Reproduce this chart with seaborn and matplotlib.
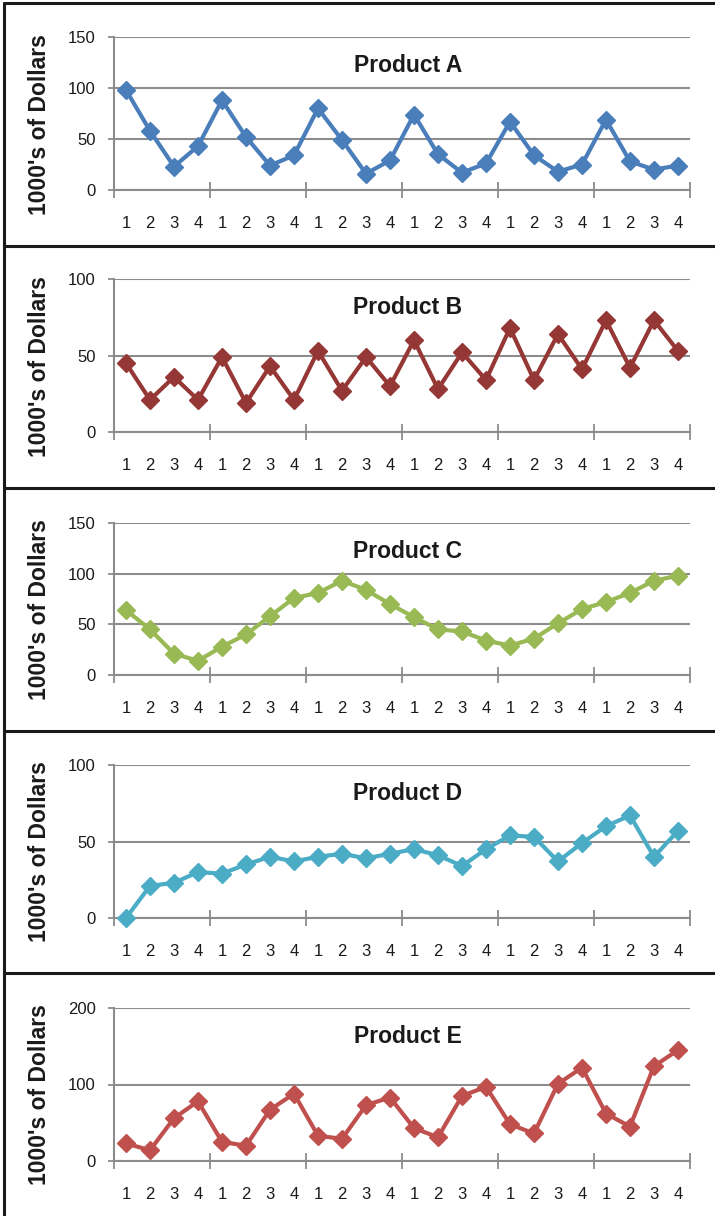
import matplotlib
matplotlib.use("Agg")
import matplotlib.pyplot as plt
from matplotlib.lines import Line2D
from matplotlib.ticker import FixedLocator, NullFormatter, FixedFormatter
import seaborn as sns
import pandas as pd
import numpy as np

# ---------------- data ----------------
quarters = ["1", "2", "3", "4"] * 6
titles = ["Product A", "Product B", "Product C", "Product D", "Product E"]
product_a = [98, 58, 23, 43, 88, 52, 24, 34, 80, 49, 16, 29, 74, 35, 17, 26, 67, 34, 18, 25, 69, 28, 20, 24]
product_b = [45, 21, 36, 21, 49, 19, 43, 21, 53, 27, 49, 30, 60, 28, 52, 34, 68, 34, 64, 41, 73, 42, 73, 53]
product_c = [64, 45, 21, 14, 28, 40, 58, 76, 81, 93, 84, 70, 57, 45, 43, 34, 29, 36, 51, 65, 72, 81, 93, 98]
product_d = [0, 21, 23, 30, 29, 35, 40, 37, 40, 42, 39, 42, 45, 41, 34, 45, 54, 53, 37, 49, 60, 67, 40, 57]
product_e = [23, 14, 56, 78, 25, 20, 67, 88, 33, 29, 73, 83, 43, 31, 85, 97, 48, 36, 101, 122, 62, 45, 124, 145]
series = [product_a, product_b, product_c, product_d, product_e]
y_max = [150, 100, 150, 100, 200]
y_step = [50, 50, 50, 50, 100]
colors = ["#4A7EBB", "#953735", "#98B954", "#4BACC6", "#C0504D"]
ylabel = "1000's of Dollars"

# ---------------- layout ----------------
W, H = 715, 1216
sns.set_theme(style="white")
plt.rcParams["font.family"] = ["Liberation Sans", "DejaVu Sans"]

fig = plt.figure(figsize=(W / 100, H / 100), dpi=100)

ax_tops = [37, 279, 523, 765, 1008]
ax_bots = [190, 432, 675, 918, 1161]
seps = [3, 246, 488, 731, 973]
x_left, x_right = 114, 690
grid_col = "#8C8C8C"

for i in range(5):
    top, bot = ax_tops[i], ax_bots[i]
    ax = fig.add_axes([x_left / W, 1 - bot / H, (x_right - x_left) / W, (bot - top) / H])
    df = pd.DataFrame({"idx": np.arange(len(series[i])), "value": series[i]})
    sns.lineplot(data=df, x="idx", y="value", ax=ax, color=colors[i],
                 linewidth=3.0, marker="D", markersize=9,
                 markeredgecolor=colors[i], markeredgewidth=1,
                 clip_on=False, zorder=5)
    n = len(series[i])
    ax.set_xlim(-0.5, n - 0.5)
    ax.set_ylim(0, y_max[i])
    ax.set_yticks(np.arange(0, y_max[i] + 1, y_step[i]))
    ax.yaxis.grid(True, color=grid_col, linewidth=1.5)
    ax.set_axisbelow(True)
    # x ticks: major at group boundaries, minor labels at categories
    ax.xaxis.set_major_locator(FixedLocator(np.arange(-0.5, n, 4)))
    ax.xaxis.set_major_formatter(NullFormatter())
    ax.xaxis.set_minor_locator(FixedLocator(np.arange(n)))
    ax.xaxis.set_minor_formatter(FixedFormatter(quarters))
    ax.tick_params(axis="x", which="major", direction="inout", length=11,
                   width=1.3, color=grid_col, bottom=True)
    ax.tick_params(axis="x", which="minor", length=0, pad=19, labelsize=12,
                   labelcolor="#1a1a1a", bottom=True)
    ax.tick_params(axis="y", which="major", direction="out", length=4,
                   width=1.3, color=grid_col, pad=9, labelsize=12,
                   labelcolor="#1a1a1a", left=True)
    for s in ["top", "right"]:
        ax.spines[s].set_visible(False)
    for s in ["left", "bottom"]:
        ax.spines[s].set_color(grid_col)
        ax.spines[s].set_linewidth(1.5)
    ax.set_xlabel("")
    ax.set_ylabel("")
    ax.text(0.51, 0.815, titles[i], transform=ax.transAxes, ha="center",
            va="center", fontsize=16.5, fontweight="bold", color="#1a1a1a")

    # y label centred on panel
    p_top = seps[i]
    p_bot = seps[i + 1] if i < 4 else H
    fig.text(40 / W, 1 - (p_top + p_bot) / 2 / H, ylabel, rotation=90,
             ha="center", va="center", fontsize=16.5, fontweight="bold",
             color="#1a1a1a")

# panel borders
for y in seps:
    fig.add_artist(Line2D([4 / W, 1], [1 - y / H, 1 - y / H], color="#1a1a1a",
                          linewidth=2.2, transform=fig.transFigure))
fig.add_artist(Line2D([4 / W, 4 / W], [1 - 3 / H, 0], color="#1a1a1a",
                      linewidth=2.2, transform=fig.transFigure))

fig.savefig("out.png", dpi=100)
